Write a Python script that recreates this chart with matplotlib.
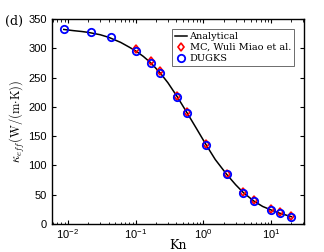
import matplotlib
matplotlib.use("Agg")
import matplotlib.pyplot as plt
from matplotlib.ticker import LogLocator, NullFormatter, MultipleLocator

plt.rcParams['mathtext.fontset'] = 'custom'
plt.rcParams['mathtext.rm'] = 'Liberation Sans'
plt.rcParams['mathtext.it'] = 'Liberation Sans:italic'
plt.rcParams['mathtext.bf'] = 'Liberation Sans:bold'

# Analytical curve
kn_line = [0.0087, 0.012, 0.016, 0.02, 0.03, 0.04, 0.06, 0.08, 0.1, 0.13, 0.166,
           0.23, 0.3, 0.41, 0.58, 0.8, 1.1, 1.5, 2.2, 3.0, 3.9, 5.6, 7.5, 10, 13.4, 20]
k_line = [332, 330, 328.5, 327, 323, 318.6, 310, 302, 295.5, 286, 275.5,
          258, 241, 217.5, 189, 162, 135, 110, 85, 67, 53.5, 39, 30, 24, 18.5, 12.5]

# MC (Wuli Miao et al.)
kn_mc = [0.1, 0.166, 0.23, 0.41, 0.58, 1.1, 2.2, 3.9, 5.6, 10, 13.4, 20]
k_mc = [298, 278, 261, 219, 191, 136, 86, 55, 41, 26, 20, 14]

# DUGKS
kn_dg = [0.0087, 0.0216, 0.043, 0.1, 0.166, 0.23, 0.41, 0.58, 1.1, 2.2, 3.9, 5.6, 10, 13.4, 20]
k_dg = [332, 327, 318.6, 296, 275, 258, 217, 189, 135, 85, 53.5, 39, 24, 18, 12.5]

fig = plt.figure(figsize=(3.24, 2.52), dpi=100)
ax = fig.add_axes([0.160, 0.111, 0.778, 0.814])

ax.plot(kn_line, k_line, color='black', lw=1.1, label='Analytical', zorder=2)
ax.plot(kn_mc, k_mc, linestyle='none', marker='d', ms=4.5, mfc='none', mec='red',
        mew=1.2, label='MC, Wuli Miao et al.', zorder=3)
ax.plot(kn_dg, k_dg, linestyle='none', marker='o', ms=5.3, mfc='none', mec='blue',
        mew=1.3, label='DUGKS', zorder=4)

ax.set_xscale('log')
ax.set_xlim(0.0058, 30.5)
ax.set_ylim(0, 350)
ax.yaxis.set_major_locator(MultipleLocator(50))
ax.xaxis.set_major_locator(LogLocator(base=10, numticks=10))
ax.xaxis.set_minor_locator(LogLocator(base=10, subs=range(2, 10), numticks=20))
ax.xaxis.set_minor_formatter(NullFormatter())

for s in ax.spines.values():
    s.set_linewidth(1.0)
ax.tick_params(which='both', direction='in', top=True, right=True)
ax.tick_params(which='major', length=3, width=0.8, labelsize=8)
ax.tick_params(axis='x', which='major', pad=2)
ax.tick_params(which='minor', length=1.8, width=0.6)
for lab in ax.get_xticklabels() + ax.get_yticklabels():
    lab.set_fontfamily('Liberation Sans')

ax.set_xlabel('Kn', fontsize=9, fontfamily='DejaVu Serif', labelpad=-1)
yl = ax.set_ylabel(r'$\kappa_{eff}\mathrm{(W/(m{\cdot}K))}$', fontsize=9, labelpad=1)
yl.set_math_fontfamily('cm')

leg = ax.legend(loc='upper right', bbox_to_anchor=(0.96, 0.95), fontsize=7,
                frameon=True, fancybox=False, edgecolor='#555555', framealpha=1,
                handlelength=1.2, handletextpad=0.3, borderpad=0.3, labelspacing=0.2,
                borderaxespad=0)
leg.get_frame().set_linewidth(0.6)
for t in leg.get_texts():
    t.set_fontfamily('DejaVu Serif')

fig.text(0.015, 0.90, '(d)', fontsize=9, fontfamily='DejaVu Serif')

fig.savefig('out.png', dpi=100)
